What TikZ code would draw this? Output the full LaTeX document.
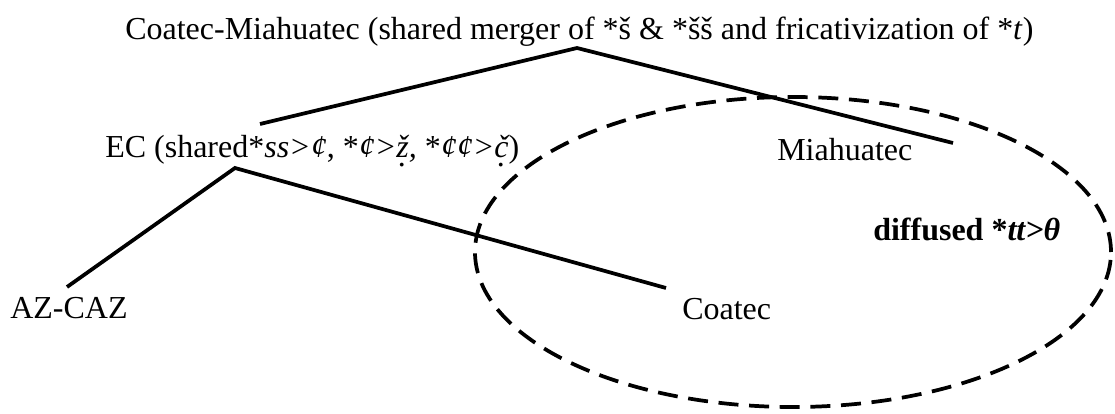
\documentclass[tikz,border=0pt]{standalone}
\usepackage{fontspec}
\setmainfont{Liberation Serif}
\newcommand{\dbelow}[1]{\ooalign{#1\cr\hidewidth\raisebox{-0.62ex}{.}\hidewidth\cr}}
\begin{document}
\begin{tikzpicture}[x=0.75pt,y=-0.75pt,
  lbl/.style={anchor=base west,inner sep=0pt,font=\fontsize{24}{29}\selectfont},
  branch/.style={line width=2.8pt},
  zone/.style={line width=2.8pt,dash pattern=on 15pt off 8pt}]
\useasboundingbox (0,0) rectangle (1115,414);
% labels
\node[lbl] (root) at (125,39) {Coatec-Miahuatec (shared merger of *š \& *šš and fricativization of *\textit{t})};
\node[lbl] (ec) at (105,157) {EC (shared*\textit{ss>¢}, *\textit{¢>\dbelow{ž},} *\textit{¢¢>\dbelow{č}})};
\node[lbl] (mia) at (777,160) {Miahuatec};
\node[lbl] (az) at (10,318) {AZ-CAZ};
\node[lbl] (coa) at (682,319) {Coatec};
\node[lbl] (dif) at (873,240) {\textbf{diffused *\textit{tt>θ}}};
% connector end points
\coordinate (peak) at (577,48);
\coordinate (ectop) at (260,124);
\coordinate (ecbot) at (235,168);
\coordinate (miaend) at (953,143);
\coordinate (azend) at (67,287);
\coordinate (coaend) at (666,288);
% branches
\draw[branch] (ectop) -- (peak) -- (miaend);
\draw[branch] (azend) -- (ecbot) -- (coaend);
% diffusion zone
\draw[zone] (793,252) ellipse [x radius=238.5pt, y radius=116.25pt];
\end{tikzpicture}
\end{document}
